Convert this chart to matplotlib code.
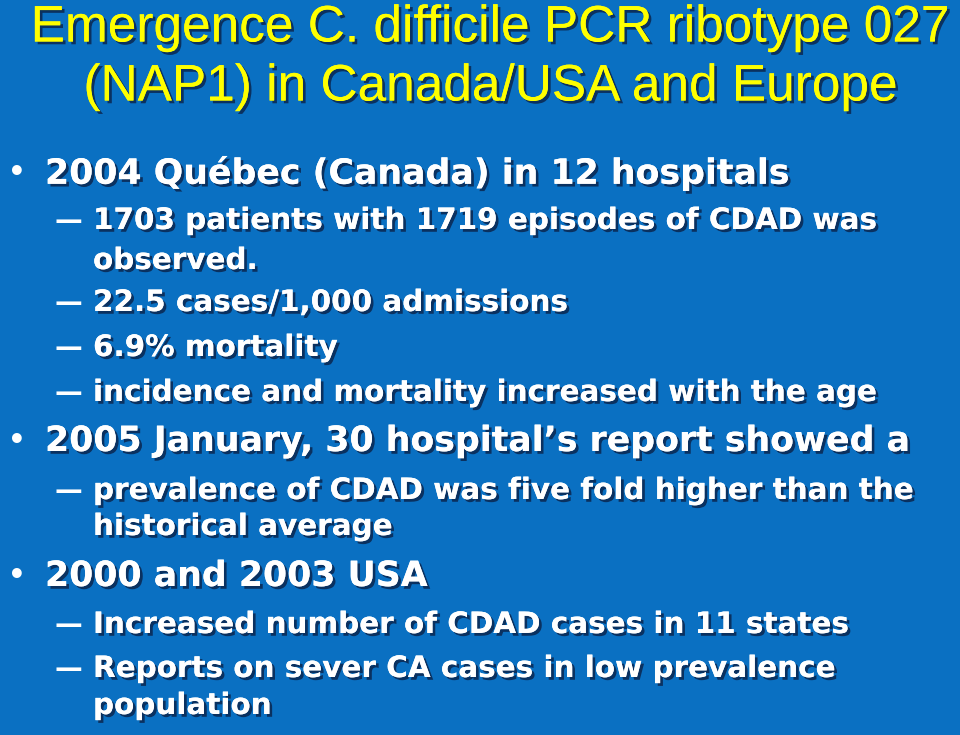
import matplotlib
matplotlib.use("Agg")
import matplotlib.pyplot as plt
import matplotlib.patheffects as pe

title_lines = ["Emergence C. difficile PCR ribotype 027", "(NAP1) in Canada/USA and Europe"]
body_levels = [1, 2, 2, 2, 2, 2, 1, 2, 2, 1, 2, 2, 2]
body_texts = [
    "2004 Québec (Canada) in 12 hospitals",
    "1703 patients with 1719 episodes of CDAD was",
    "observed.",
    "22.5 cases/1,000 admissions",
    "6.9% mortality",
    "incidence and mortality increased with the age",
    "2005 January, 30 hospital\u2019s report showed a",
    "prevalence of CDAD was five fold higher than the",
    "historical average",
    "2000 and 2003 USA",
    "Increased number of CDAD cases in 11 states",
    "Reports on sever CA cases in low prevalence",
    "population",
]
body_y = [173, 221, 261, 303, 348, 393, 441, 491, 527, 576, 625, 669, 706]
dash_flags = [False, True, False, True, True, True, False, True, False, False, True, True, False]

fig = plt.figure(figsize=(9.6, 7.35), dpi=100)
fig.patch.set_facecolor("#0A70C2")
ax = fig.add_axes([0, 0, 1, 1])
ax.set_xlim(0, 960); ax.set_ylim(735, 0); ax.axis("off")

shadow = [pe.withSimplePatchShadow(offset=(2, -2), shadow_rgbFace="#0a2a55", alpha=0.9), pe.Normal()]
ax.text(490, 28, title_lines[0], ha="center", va="center", fontsize=37, color="#FFFF00",
        family="Liberation Sans", path_effects=shadow)
ax.text(490, 87, title_lines[1], ha="center", va="center", fontsize=37, color="#FFFF00",
        family="Liberation Sans", path_effects=shadow)

for lvl, t, y, d in zip(body_levels, body_texts, body_y, dash_flags):
    if lvl == 1:
        ax.text(8, y, "\u2022", ha="left", va="center", fontsize=20, color="white", fontweight="bold")
        ax.text(45, y, t, ha="left", va="center", fontsize=25, color="white", fontweight="bold",
                path_effects=shadow)
    else:
        if d:
            ax.text(55, y, "\u2014", ha="left", va="center", fontsize=20, color="white", fontweight="bold")
        ax.text(93, y, t, ha="left", va="center", fontsize=21.2, color="white", fontweight="bold",
                path_effects=shadow)

fig.savefig("out.png", dpi=100, facecolor=fig.get_facecolor())
